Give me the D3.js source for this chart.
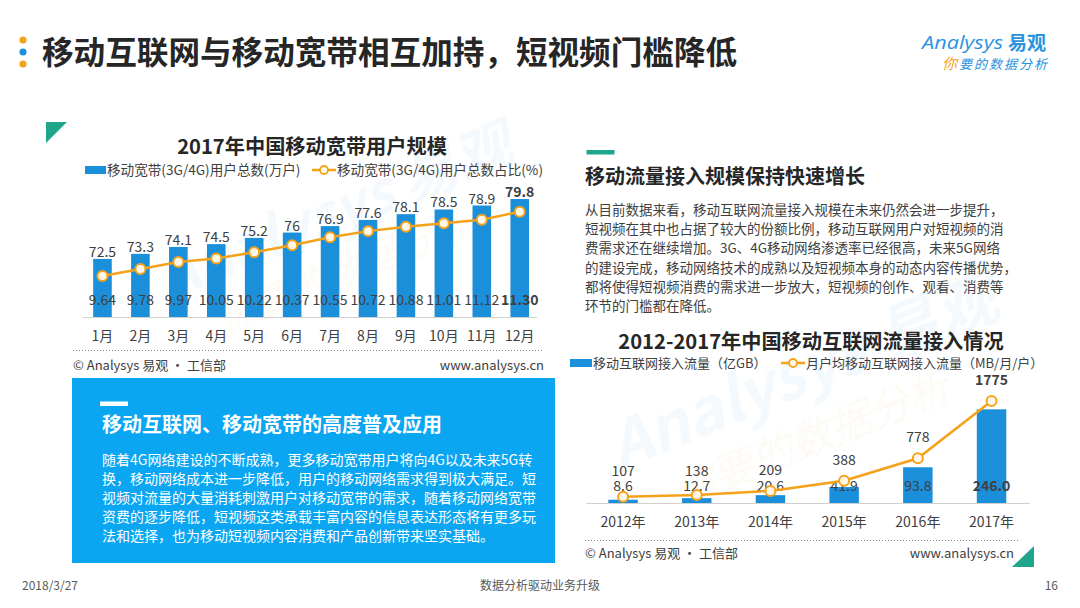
<!DOCTYPE html>
<html>
<head>
<meta charset="utf-8">
<script src="https://cdn.jsdelivr.net/npm/d3@7"></script>
<style>
  html, body { margin: 0; padding: 0; background: #fff; }
  svg { display: block; font-family: "Noto Sans CJK SC", "Noto Sans", sans-serif; }
</style>
</head>
<body>
<svg width="1080" height="608"></svg>
<script>
// chart 1: 2017 mobile broadband users
const months = ["1月", "2月", "3月", "4月", "5月", "6月", "7月", "8月", "9月", "10月", "11月", "12月"];
const users = [9.64, 9.78, 9.97, 10.05, 10.22, 10.37, 10.55, 10.72, 10.88, 11.01, 11.12, 11.30];
const share = [72.5, 73.3, 74.1, 74.5, 75.2, 76, 76.9, 77.6, 78.1, 78.5, 78.9, 79.8];

// chart 2: mobile internet traffic 2012-2017
const years = ["2012年", "2013年", "2014年", "2015年", "2016年", "2017年"];
const traffic = [8.6, 12.7, 20.6, 41.9, 93.8, 246.0];
const perUser = [107, 138, 209, 388, 778, 1775];

const rightText = [
  "从目前数据来看，移动互联网流量接入规模在未来仍然会进一步提升，",
  "短视频在其中也占据了较大的份额比例，移动互联网用户对短视频的消",
  "费需求还在继续增加。3G、4G移动网络渗透率已经很高，未来5G网络",
  "的建设完成，移动网络技术的成熟以及短视频本身的动态内容传播优势，",
  "都将使得短视频消费的需求进一步放大，短视频的创作、观看、消费等",
  "环节的门槛都在降低。"
];
const boxText = [
  "随着4G网络建设的不断成熟，更多移动宽带用户将向4G以及未来5G转",
  "换，移动网络成本进一步降低，用户的移动网络需求得到极大满足。短",
  "视频对流量的大量消耗刺激用户对移动宽带的需求，随着移动网络宽带",
  "资费的逐步降低，短视频这类承载丰富内容的信息表达形态将有更多玩",
  "法和选择，也为移动短视频内容消费和产品创新带来坚实基础。"
];

const blue = "#1b8fda", orange = "#f5a21b", teal = "#1fa58a", dark = "#262626", txt = "#404040";

const svg = d3.select("svg");
svg.append("rect").attr("width", 1080).attr("height", 608).attr("fill", "#fff");

// header
[[40, orange], [52, "#1e90e0"], [64, orange]].forEach(([y, c]) =>
  svg.append("circle").attr("cx", 23).attr("cy", y).attr("r", 3.6).attr("fill", c));
svg.append("text").attr("x", 42).attr("y", 64)
  .attr("font-size", 31.6).attr("font-weight", 700).attr("fill", dark)
  .text("移动互联网与移动宽带相互加持，短视频门槛降低");

// logo
const logo = svg.append("g");
logo.append("text").attr("x", 922).attr("y", 49).attr("font-size", 19).attr("font-style", "italic")
  .attr("font-family", "Open Sans").attr("fill", "#2a93e0")
  .attr("textLength", 81).attr("lengthAdjust", "spacingAndGlyphs").text("Analysys");
logo.append("text").attr("x", 1008).attr("y", 50).attr("font-size", 19).attr("font-weight", 700)
  .attr("fill", "#2a93e0").text("易观");
const tag = logo.append("text").attr("x", 942).attr("y", 69).attr("font-size", 13)
  .attr("letter-spacing", 2).attr("font-style", "italic");
tag.append("tspan").attr("fill", orange).attr("font-size", 15).text("你");
tag.append("tspan").attr("fill", "#2a93e0").text("要的数据分析");

// watermarks
function watermark(x, y, s) {
  const g = svg.append("g").attr("transform", `translate(${x},${y}) rotate(-22) scale(${s})`).attr("opacity", 0.045);
  g.append("text").attr("font-size", 60).attr("font-weight", 700).attr("font-style", "italic")
    .attr("fill", "#1e90e0").text("Analysys 易观");
  g.append("text").attr("x", 40).attr("y", 55).attr("font-size", 40).attr("font-style", "italic")
    .attr("fill", orange).text("你要的数据分析");
}
watermark(170, 300, 0.95);
watermark(620, 470, 1.05);

// ---------- left chart ----------
svg.append("path").attr("d", "M46,122 L67,122 L46,143 Z").attr("fill", teal);
svg.append("text").attr("x", 312).attr("y", 154).attr("text-anchor", "middle")
  .attr("font-size", 20.2).attr("font-weight", 700).attr("fill", dark)
  .text("2017年中国移动宽带用户规模");

// legend
svg.append("rect").attr("x", 85).attr("y", 166).attr("width", 21).attr("height", 8).attr("fill", blue);
svg.append("text").attr("x", 107).attr("y", 174.5).attr("font-size", 13.6).attr("fill", txt)
  .text("移动宽带(3G/4G)用户总数(万户)");
svg.append("line").attr("x1", 312).attr("x2", 336).attr("y1", 170).attr("y2", 170)
  .attr("stroke", orange).attr("stroke-width", 2.5);
svg.append("circle").attr("cx", 324).attr("cy", 170).attr("r", 4)
  .attr("fill", "#fff8e8").attr("stroke", orange).attr("stroke-width", 1.8);
svg.append("text").attr("x", 337).attr("y", 174.5).attr("font-size", 13.6).attr("fill", txt)
  .text("移动宽带(3G/4G)用户总数占比(%)");

const x1 = d3.scaleBand().domain(months).range([83.5, 538.7]).paddingInner(0.51).paddingOuter(0.255);
const yBar1 = d3.scaleLinear().domain([8.03, 11.55]).range([317, 190]);
const yLine1 = d3.scaleLinear().domain([67.85, 82.27]).range([317, 190]);

const c1 = svg.append("g");
c1.selectAll("rect.bar").data(months).join("rect").attr("class", "bar")
  .attr("x", d => x1(d)).attr("width", x1.bandwidth())
  .attr("y", (d, i) => yBar1(users[i])).attr("height", (d, i) => 317 - yBar1(users[i]))
  .attr("fill", blue);

const xAxis1 = c1.append("g").attr("transform", "translate(0,317)")
  .call(d3.axisBottom(x1).tickSize(0).tickPadding(14));
xAxis1.select(".domain").attr("stroke", "#d0d0d0").attr("d", "M83,0.5H537");
xAxis1.selectAll("text").attr("font-size", 14).attr("fill", txt)
  .attr("font-family", "Noto Sans CJK SC");

c1.selectAll("text.top").data(months).join("text").attr("class", "top")
  .attr("x", d => x1(d) + x1.bandwidth() / 2)
  .attr("y", (d, i) => yBar1(users[i]) - 2)
  .attr("text-anchor", "middle").attr("font-size", 14).attr("fill", txt)
  .attr("font-weight", (d, i) => i === 11 ? 700 : 400)
  .text((d, i) => share[i]);
c1.selectAll("text.bot").data(months).join("text").attr("class", "bot")
  .attr("x", d => x1(d) + x1.bandwidth() / 2).attr("y", 305)
  .attr("text-anchor", "middle").attr("font-size", 14).attr("fill", txt)
  .attr("font-weight", (d, i) => i === 11 ? 700 : 400)
  .text((d, i) => users[i].toFixed(2));

const line1 = d3.line().x((d, i) => x1(months[i]) + x1.bandwidth() / 2).y(d => yLine1(d));
c1.append("path").datum(share).attr("d", line1).attr("fill", "none")
  .attr("stroke", orange).attr("stroke-width", 2.5);
c1.selectAll("circle").data(share).join("circle")
  .attr("cx", (d, i) => x1(months[i]) + x1.bandwidth() / 2).attr("cy", d => yLine1(d))
  .attr("r", 5).attr("fill", "#fff8e8").attr("stroke", orange).attr("stroke-width", 2);

svg.append("line").attr("x1", 73).attr("x2", 542).attr("y1", 350.5).attr("y2", 350.5)
  .attr("stroke", "#888").attr("stroke-dasharray", "1,2");
svg.append("text").attr("x", 73).attr("y", 370).attr("font-size", 13).attr("fill", txt)
  .text("© Analysys 易观 · 工信部");
svg.append("text").attr("x", 544).attr("y", 370).attr("text-anchor", "end").attr("font-size", 13).attr("fill", txt)
  .text("www.analysys.cn");

// blue box
svg.append("rect").attr("x", 72).attr("y", 378).attr("width", 483).attr("height", 185).attr("fill", "#0aa6f2");
svg.append("rect").attr("x", 100).attr("y", 401.5).attr("width", 28).attr("height", 4.5).attr("fill", "#fff");
svg.append("text").attr("x", 102).attr("y", 432).attr("font-size", 20).attr("font-weight", 700).attr("fill", "#fff")
  .text("移动互联网、移动宽带的高度普及应用");
svg.append("g").selectAll("text").data(boxText).join("text")
  .attr("x", 102).attr("y", (d, i) => 464.6 + i * 19.1)
  .attr("font-size", 14).attr("fill", "#fff").text(d => d);

// ---------- right text ----------
svg.append("rect").attr("x", 586.5).attr("y", 150).attr("width", 28).attr("height", 4.5).attr("fill", teal);
svg.append("text").attr("x", 585).attr("y", 184).attr("font-size", 20).attr("font-weight", 700).attr("fill", dark)
  .text("移动流量接入规模保持快速增长");
svg.append("g").selectAll("text").data(rightText).join("text")
  .attr("x", 585).attr("y", (d, i) => 214.8 + i * 19.3)
  .attr("font-size", 13.5).attr("fill", txt).text(d => d);

// ---------- right chart ----------
svg.append("text").attr("x", 811).attr("y", 349).attr("text-anchor", "middle")
  .attr("font-size", 20.2).attr("font-weight", 700).attr("fill", dark)
  .text("2012-2017年中国移动互联网流量接入情况");

svg.append("rect").attr("x", 570).attr("y", 359).attr("width", 22).attr("height", 8).attr("fill", blue);
svg.append("text").attr("x", 593).attr("y", 368).attr("font-size", 13).attr("fill", txt)
  .text("移动互联网接入流量（亿GB）");
svg.append("line").attr("x1", 781).attr("x2", 805).attr("y1", 363).attr("y2", 363)
  .attr("stroke", orange).attr("stroke-width", 2.5);
svg.append("circle").attr("cx", 793).attr("cy", 363).attr("r", 4)
  .attr("fill", "#fff8e8").attr("stroke", orange).attr("stroke-width", 1.8);
svg.append("text").attr("x", 806).attr("y", 368).attr("font-size", 13).attr("fill", txt)
  .text("月户均移动互联网接入流量（MB/月/户）");

const x2 = d3.scaleBand().domain(years).range([586.2, 1028.4]).paddingInner(0.6).paddingOuter(0.3);
const yBar2 = d3.scaleLinear().domain([0, 302]).range([503, 388]);
const yLine2 = d3.scaleLinear().domain([0, 2000]).range([503, 388]);
const cx2 = d => x2(d) + x2.bandwidth() / 2;

const c2 = svg.append("g");
c2.selectAll("rect").data(years).join("rect")
  .attr("x", d => x2(d)).attr("width", x2.bandwidth())
  .attr("y", (d, i) => yBar2(traffic[i])).attr("height", (d, i) => 503 - yBar2(traffic[i]))
  .attr("fill", blue);

const xAxis2 = c2.append("g").attr("transform", "translate(0,503)")
  .call(d3.axisBottom(x2).tickSize(0).tickPadding(14));
xAxis2.select(".domain").attr("stroke", "#d0d0d0").attr("d", "M586.5,0.5H1030");
xAxis2.selectAll("text").attr("font-size", 14).attr("fill", txt)
  .attr("font-family", "Noto Sans CJK SC");

c2.selectAll("text.bv").data(years).join("text").attr("class", "bv")
  .attr("x", cx2).attr("y", 490.5).attr("text-anchor", "middle")
  .attr("font-size", 14).attr("fill", txt)
  .attr("font-weight", (d, i) => i === 5 ? 700 : 400)
  .text((d, i) => traffic[i].toFixed(1));

const line2 = d3.line().x((d, i) => cx2(years[i])).y(d => yLine2(d));
c2.append("path").datum(perUser).attr("d", line2).attr("fill", "none")
  .attr("stroke", orange).attr("stroke-width", 2.5);
c2.selectAll("circle").data(perUser).join("circle")
  .attr("cx", (d, i) => cx2(years[i])).attr("cy", d => yLine2(d))
  .attr("r", 5).attr("fill", "#fff8e8").attr("stroke", orange).attr("stroke-width", 2);
c2.selectAll("text.lv").data(perUser).join("text").attr("class", "lv")
  .attr("x", (d, i) => cx2(years[i])).attr("y", d => Math.min(yLine2(d) - 16, 476))
  .attr("text-anchor", "middle").attr("font-size", 14).attr("fill", txt)
  .attr("font-weight", (d, i) => i === 5 ? 700 : 400)
  .text(d => d);

svg.append("line").attr("x1", 585).attr("x2", 1020).attr("y1", 540.5).attr("y2", 540.5)
  .attr("stroke", "#888").attr("stroke-dasharray", "1,2");
svg.append("text").attr("x", 585).attr("y", 558).attr("font-size", 13).attr("fill", txt)
  .text("© Analysys 易观 · 工信部");
svg.append("text").attr("x", 1014).attr("y", 558).attr("text-anchor", "end").attr("font-size", 13).attr("fill", txt)
  .text("www.analysys.cn");
svg.append("path").attr("d", "M1012,567 L1034,567 L1034,546 Z").attr("fill", teal);

// footer
svg.append("text").attr("x", 22).attr("y", 590).attr("font-size", 12).attr("fill", "#595959").text("2018/3/27");
svg.append("text").attr("x", 540).attr("y", 590).attr("text-anchor", "middle").attr("font-size", 12)
  .attr("fill", "#595959").text("数据分析驱动业务升级");
svg.append("text").attr("x", 1058).attr("y", 590).attr("text-anchor", "end").attr("font-size", 12)
  .attr("fill", "#595959").text("16");
</script>
</body>
</html>
